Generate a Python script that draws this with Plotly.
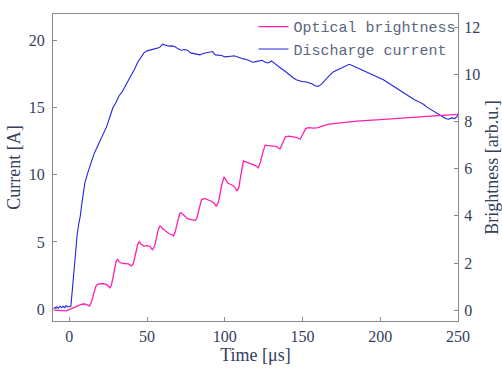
import plotly.graph_objects as go

# Discharge current [A] vs time [µs]
t_cur = [-10, -8, -7, -6, -5, -4, -3, -2, -1, 0, 1, 2, 3, 4, 5, 6, 7, 8, 9, 10,
         12, 14, 16, 18, 20, 22, 24, 26, 28, 30, 32, 34, 36, 38, 40, 42, 44, 46, 48, 50,
         52, 54, 56, 58, 60, 62, 64, 66, 68, 70, 72, 74, 76, 78, 80, 82, 84, 86, 88, 90,
         92, 94, 96, 98, 100, 102, 104, 106, 108, 110, 112, 114, 116, 118, 120, 122, 124, 126, 128, 130,
         132, 134, 136, 138, 140, 142, 144, 146, 148, 150, 152, 154, 156, 158, 160, 162, 164, 166, 168, 170,
         172, 174, 176, 178, 180, 182, 184, 186, 188, 190, 192, 194, 196, 198, 200, 202, 204, 206, 208, 210,
         212, 214, 216, 218, 220, 222, 224, 226, 228, 230, 232, 234, 236, 238, 240, 242, 244, 246, 248, 250]
current = [0.05, 0.15, 0.05, 0.2, 0.1, 0.2, 0.1, 0.25, 0.15, 0.15, 0.2, 1.5, 3.0, 4.5, 5.5, 6.3, 6.9, 7.8, 8.8, 9.4,
           10.2, 11.0, 11.6, 12.1, 12.6, 13.1, 13.6, 14.3, 15.0, 15.4, 15.9, 16.2, 16.6, 17.1, 17.5, 17.9, 18.4, 18.8, 19.1, 19.25,
           19.3, 19.4, 19.45, 19.5, 19.75, 19.65, 19.6, 19.62, 19.55, 19.4, 19.3, 19.35, 19.3, 19.1, 19.05, 19.0, 18.95, 19.05, 19.1, 19.1,
           19.2, 18.95, 18.95, 18.9, 18.8, 18.8, 18.85, 18.88, 18.8, 18.7, 18.65, 18.6, 18.5, 18.4, 18.45, 18.5, 18.55, 18.4, 18.35, 18.5,
           18.3, 18.1, 17.95, 17.8, 17.6, 17.4, 17.25, 17.1, 17.0, 16.95, 16.95, 16.9, 16.8, 16.65, 16.6, 16.75, 17.0, 17.3, 17.5, 17.7,
           17.8, 17.9, 18.0, 18.15, 18.25, 18.15, 18.05, 17.95, 17.85, 17.75, 17.65, 17.55, 17.45, 17.35, 17.25, 17.1, 16.95, 16.8, 16.6, 16.45,
           16.3, 16.15, 16.0, 15.85, 15.75, 15.6, 15.5, 15.4, 15.25, 15.05, 14.9, 14.75, 14.6, 14.5, 14.35, 14.2, 14.15, 14.25, 14.2, 14.45]

# Optical brightness [arb.u.] vs time [µs]
t_bri = [-10, -6, -2, 0, 2, 4, 6, 8, 10, 12, 13, 14, 15, 16, 17, 18, 20, 22, 24, 26,
         27, 28, 29, 30, 31, 32, 34, 36, 38, 40, 41, 42, 43, 44, 45, 46, 48, 50, 52, 53.5,
         55, 56, 57, 58, 59, 60, 62, 64, 66, 67, 68, 69, 70, 71, 72, 74, 76, 78, 80, 81,
         82, 83, 84, 85, 87, 89, 91, 93, 94.5, 96, 97, 98, 99.5, 101, 102, 104, 106, 108, 109, 110,
         111, 112, 114, 116, 118, 120, 121.5, 123, 124.5, 126, 128, 130, 133, 135.5, 137, 139, 141, 143, 146, 148.5,
         150, 152, 154, 157, 160, 163, 166, 170, 175, 185, 200, 215, 230, 250]
brightness = [0.0, 0.0, -0.03, 0.02, 0.08, 0.15, 0.22, 0.25, 0.26, 0.2, 0.18, 0.3, 0.55, 0.85, 1.0, 1.08, 1.12, 1.12, 1.08, 0.95,
              1.05, 1.35, 1.75, 2.05, 2.15, 2.05, 1.98, 1.97, 1.96, 1.88, 1.95, 2.2, 2.55, 2.8, 2.9, 2.8, 2.72, 2.74, 2.7, 2.55,
              2.75, 3.1, 3.35, 3.55, 3.55, 3.45, 3.33, 3.25, 3.2, 3.15, 3.3, 3.6, 3.9, 4.1, 4.13, 4.0, 3.88, 3.85, 3.82, 3.8,
              3.9, 4.2, 4.5, 4.68, 4.74, 4.7, 4.63, 4.55, 4.4, 4.6, 4.95, 5.3, 5.65, 5.5, 5.38, 5.33, 5.25, 5.05, 5.2, 5.6,
              6.0, 6.33, 6.28, 6.23, 6.2, 6.12, 6.03, 6.3, 6.7, 7.0, 6.98, 6.96, 6.95, 6.83, 7.05, 7.35, 7.38, 7.35, 7.33, 7.25,
              7.45, 7.7, 7.74, 7.72, 7.74, 7.82, 7.88, 7.91, 7.95, 8.02, 8.08, 8.16, 8.22, 8.3]

x_ticks = [0, 50, 100, 150, 200, 250]
y_ticks = [0, 5, 10, 15, 20]
y2_ticks = [0, 2, 4, 6, 8, 10, 12]

TEXT = "#34405c"
AX = "#8a8a8a"
SERIF = "Liberation Serif, Times New Roman, serif"
MONO = "Liberation Mono, Courier New, monospace"

fig = go.Figure()
fig.add_trace(go.Scatter(x=t_bri, y=brightness, name="Optical brightness", mode="lines",
                         line=dict(color="#ff1fae", width=1.3), yaxis="y2"))
fig.add_trace(go.Scatter(x=t_cur, y=current, name="Discharge current", mode="lines",
                         line=dict(color="#2525dd", width=1.1), yaxis="y"))

axis_common = dict(showgrid=False, zeroline=False, showline=True, linecolor=AX, linewidth=1.3,
                   ticks="inside", ticklen=4, tickcolor=AX, ticklabelstandoff=4, automargin=False,
                   tickfont=dict(family=SERIF, size=16, color=TEXT))

TITLE_FONT = dict(family=SERIF, size=18, color=TEXT)

fig.update_layout(
    width=502, height=368,
    margin=dict(l=53, r=44, t=10, b=47),
    paper_bgcolor="white", plot_bgcolor="white",
    showlegend=True,
    legend=dict(x=0.495, y=1.012, xanchor="left", yanchor="top", bgcolor="rgba(0,0,0,0)",
                font=dict(family=MONO, size=15, color="#5a6680"), borderwidth=0),
    xaxis=dict(axis_common, range=[-10.5, 250], tickvals=x_ticks, mirror=True, ticklabelstandoff=1,
               title=dict(text="Time [μs]", font=TITLE_FONT, standoff=4)),
    yaxis=dict(axis_common, range=[-0.9, 22.0], tickvals=y_ticks,
               title=dict(text="Current [A]", font=TITLE_FONT, standoff=3)),
    yaxis2=dict(axis_common, range=[-0.46, 12.56], tickvals=y2_ticks, overlaying="y", side="right",
                ticklabelstandoff=2,
                title=dict(text="Brightness [arb.u.]", font=TITLE_FONT, standoff=6)),
)

fig.write_html("out.html")
